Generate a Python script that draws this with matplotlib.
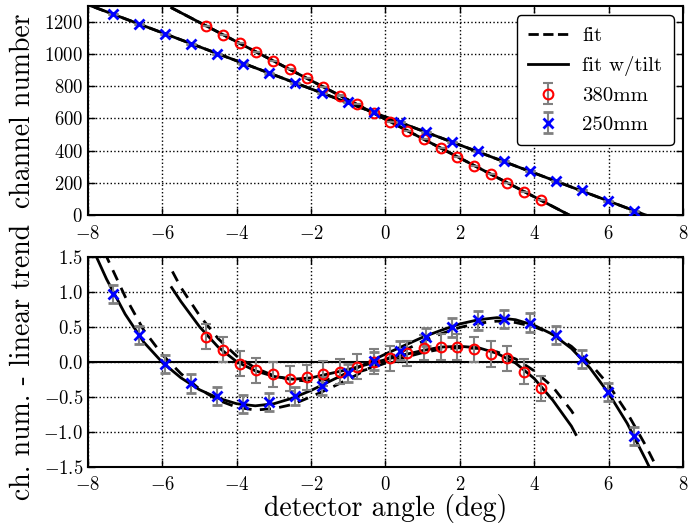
import numpy as np
import matplotlib
matplotlib.use("Agg")
from matplotlib import pyplot as plt

plt.rcParams['font.family'] = 'serif'
plt.rcParams['font.serif'] = ['cmr10']
plt.rcParams['mathtext.fontset'] = 'cm'
plt.rcParams['axes.formatter.use_mathtext'] = True
plt.rcParams['axes.unicode_minus'] = True

# Posiciones del detector (grados)
ang_380 = [-4.82, -4.37, -3.92, -3.47, -3.02, -2.57, -2.12, -1.67, -1.22, -0.77, -0.32,
           0.13, 0.58, 1.03, 1.48, 1.93, 2.38, 2.83, 3.28, 3.73, 4.18]
ang_250 = [-7.32, -6.62, -5.92, -5.22, -4.52, -3.82, -3.12, -2.42, -1.72, -1.02, -0.32,
           0.38, 1.08, 1.78, 2.48, 3.18, 3.88, 4.58, 5.28, 5.98, 6.68]

# Numero de canal
ch_380 = [1176, 1122, 1068, 1012, 958, 905, 851, 795, 743, 690, 635,
          576, 524, 470, 416, 362, 306, 253, 199, 145, 91]
ch_250 = [1248, 1188, 1126, 1064, 1004, 942, 880, 820, 760, 700, 640,
          578, 517, 455, 396, 335, 275, 213, 153, 89, 27]

# Residuos respecto a la tendencia lineal
res_380 = [0.36, 0.17, -0.03, -0.12, -0.18, -0.24, -0.22, -0.17, -0.14, -0.07, 0.00,
           0.05, 0.12, 0.20, 0.21, 0.21, 0.18, 0.11, 0.05, -0.14, -0.38]
res_250 = [0.97, 0.38, -0.03, -0.31, -0.49, -0.60, -0.57, -0.49, -0.35, -0.16, 0.01,
           0.16, 0.35, 0.49, 0.59, 0.61, 0.56, 0.38, 0.04, -0.43, -1.06]
err_380 = 0.18
err_250 = 0.13

# Ajustes lineales (panel superior)
fit_x_380 = [-5.75, 5.12]
fit_y_380 = [1288, -22]
fit_x_250 = [-8.2, 7.3]
fit_y_250 = [1325, -27]

# Curvas de ajuste (panel inferior)
cx_380 = [-5.75, -5.5, -5.0, -4.5, -4.0, -3.5, -3.0, -2.5, -2.0, -1.5, -1.0, -0.5, 0.0,
          0.5, 1.0, 1.5, 2.0, 2.5, 3.0, 3.5, 4.0, 4.5, 5.0, 5.12]
tilt_380 = [1.06, 0.86, 0.50, 0.21, 0.00, -0.13, -0.21, -0.25, -0.23, -0.17, -0.11, -0.04, 0.03,
            0.10, 0.16, 0.21, 0.22, 0.20, 0.12, -0.02, -0.24, -0.55, -0.92, -1.04]
cxd_380 = [-5.73, -5.5, -5.0, -4.5, -4.0, -3.5, -3.0, -2.5, -2.0, -1.5, -1.0, -0.5, 0.0,
           0.5, 1.0, 1.5, 2.0, 2.5, 3.0, 3.5, 4.0, 4.5, 5.0, 5.12]
fit_380 = [1.29, 1.06, 0.66, 0.33, 0.08, -0.09, -0.20, -0.26, -0.28, -0.25, -0.19, -0.11, -0.02,
           0.06, 0.13, 0.18, 0.20, 0.19, 0.14, 0.04, -0.13, -0.36, -0.70, -0.80]

cx_250 = [-7.8, -7.5, -7.0, -6.5, -6.0, -5.5, -5.0, -4.5, -4.0, -3.5, -3.0, -2.5, -2.0, -1.5,
          -1.0, -0.5, 0.0, 0.5, 1.0, 1.5, 2.0, 2.5, 3.0, 3.5, 4.0, 4.5, 5.0, 5.5, 6.0, 6.5, 7.0, 7.2]
tilt_250 = [1.53, 1.18, 0.68, 0.28, -0.01, -0.23, -0.40, -0.52, -0.60, -0.63, -0.60, -0.52, -0.41, -0.28,
            -0.15, -0.02, 0.11, 0.23, 0.35, 0.45, 0.54, 0.60, 0.63, 0.60, 0.52, 0.39, 0.19, -0.09,
            -0.45, -0.88, -1.40, -1.62]
cxd_250 = [-7.55, -7.5, -7.0, -6.5, -6.0, -5.5, -5.0, -4.5, -4.0, -3.5, -3.0, -2.5, -2.0, -1.5,
           -1.0, -0.5, 0.0, 0.5, 1.0, 1.5, 2.0, 2.5, 3.0, 3.5, 4.0, 4.5, 5.0, 5.5, 6.0, 6.5, 7.0, 7.4]
fit_250 = [1.56, 1.50, 0.93, 0.45, 0.10, -0.17, -0.39, -0.55, -0.65, -0.69, -0.67, -0.61, -0.50, -0.38,
           -0.25, -0.11, 0.03, 0.16, 0.29, 0.40, 0.49, 0.55, 0.58, 0.56, 0.50, 0.39, 0.22, -0.02,
           -0.33, -0.73, -1.20, -1.62]

gris = '0.5'
fig = plt.figure(figsize=(6.9, 5.23), dpi=100)
ax1 = fig.add_axes([0.1275, 0.589, 0.8623, 0.3996])
ax2 = fig.add_axes([0.1275, 0.1076, 0.8623, 0.4015])

# Panel superior
ax1.plot(fit_x_380, fit_y_380, 'k--', lw=2, label='fit')
ax1.plot(fit_x_380, fit_y_380, 'k-', lw=2, label='fit w/tilt')
ax1.plot(fit_x_250, fit_y_250, 'k--', lw=2)
ax1.plot(fit_x_250, fit_y_250, 'k-', lw=2)
ax1.errorbar(ang_380, ch_380, yerr=err_380, fmt='o', mfc='none', mec='r', mew=1.5, ms=7,
             ecolor=gris, elinewidth=1.5, capsize=3.5, capthick=1.5, label='380mm', zorder=3)
ax1.errorbar(ang_250, ch_250, yerr=err_250, fmt='x', mec='b', mew=2, ms=7,
             ecolor=gris, elinewidth=1.5, capsize=3.5, capthick=1.5, label='250mm', zorder=3)
ax1.set_xlim(-8, 8)
ax1.set_ylim(0, 1300)
ax1.set_yticks(range(0, 1201, 200))
ax1.set_ylabel('channel number', fontsize=20)
ax1.grid(True, color='k', linestyle=':', lw=1)
ax1.legend(loc='upper right', fontsize=15, handlelength=1.9, handletextpad=0.7, borderpad=0.55,
           labelspacing=0.5, numpoints=1, framealpha=1, edgecolor='k', fancybox=True,
           borderaxespad=0.45)

# Panel inferior
ax2.axhline(0, color='k', lw=1.5)
ax2.plot(cxd_380, fit_380, 'k--', lw=2, dashes=(4, 3))
ax2.plot(cx_380, tilt_380, 'k-', lw=2)
ax2.plot(cxd_250, fit_250, 'k--', lw=2, dashes=(4, 3))
ax2.plot(cx_250, tilt_250, 'k-', lw=2)
ax2.errorbar(ang_380, res_380, yerr=err_380, fmt='o', mfc='none', mec='r', mew=1.5, ms=7,
             ecolor=gris, elinewidth=1.5, capsize=3.5, capthick=1.5, zorder=3)
ax2.errorbar(ang_250, res_250, yerr=err_250, fmt='x', mec='b', mew=2, ms=7,
             ecolor=gris, elinewidth=1.5, capsize=3.5, capthick=1.5, zorder=3)
ax2.set_xlim(-8, 8)
ax2.set_ylim(-1.5, 1.5)
ax2.set_yticks(np.arange(-1.5, 1.51, 0.5))
ax2.set_ylabel('ch. num. - linear trend', fontsize=20)
ax2.set_xlabel('detector angle (deg)', fontsize=20, labelpad=0)
ax2.grid(True, color='k', linestyle=':', lw=1)

for ax in (ax1, ax2):
    ax.tick_params(direction='in', top=True, right=True, labelsize=13.5, length=5, width=1)
    ax.tick_params(axis='x', pad=7)
    for s in ax.spines.values():
        s.set_linewidth(1.5)
    ax.set_axisbelow(False)
    ax.yaxis.set_label_coords(-0.087, 0.5)

fig.savefig('out.png', dpi=100)
